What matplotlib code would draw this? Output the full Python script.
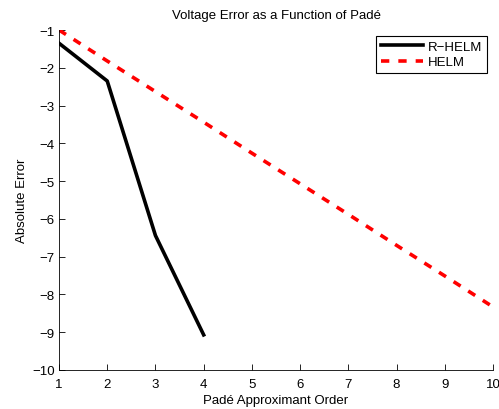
import matplotlib
matplotlib.use('Agg')
import matplotlib.pyplot as plt

# Dados
ordem_pade = [1, 2, 3, 4, 5, 6, 7, 8, 9, 10]
erro_rhelm = [-1.35, -2.35, -6.44, -9.07]
erro_helm = [-1.0, -1.82, -2.63, -3.44, -4.26, -5.07, -5.88, -6.70, -7.51, -8.33]

plt.rcParams['font.family'] = ['Liberation Sans', 'DejaVu Sans']
fs = 9.5

fig = plt.figure(figsize=(4.99, 4.10), dpi=100)
ax = fig.add_axes([59 / 499, 1 - 371 / 410, (493 - 59) / 499, (371 - 31) / 410])

ax.plot(ordem_pade[:len(erro_rhelm)], erro_rhelm, color='black', lw=2.6, label='R\u2212HELM')
ax.plot(ordem_pade, erro_helm, color='red', lw=2.6, dashes=(2.3, 2.5), label='HELM')

ax.set_xlim(1, 10)
ax.set_ylim(-10, -1)
ax.set_xticks(range(1, 11))
ax.set_yticks(range(-10, 0))
ax.set_yticklabels(['\u2212%d' % abs(v) for v in range(-10, 0)])
ax.tick_params(direction='in', length=4, width=0.6, labelsize=fs)
ax.tick_params(axis='x', pad=6)
ax.tick_params(axis='y', pad=3)
for lado in ['top', 'right']:
    ax.spines[lado].set_visible(False)
for lado in ['left', 'bottom']:
    ax.spines[lado].set_linewidth(0.6)

ax.set_title('Voltage Error as a Function of Padé', fontsize=fs, pad=9)
ax.set_xlabel('Padé Approximant Order', fontsize=fs, labelpad=3)
ax.set_ylabel('Absolute Error', fontsize=fs, labelpad=3)

leg = ax.legend(loc='upper right', bbox_to_anchor=(487 / 499, 1 - 37 / 410),
                bbox_transform=fig.transFigure, fancybox=False, framealpha=1,
                edgecolor='black', handlelength=3.2, borderpad=0.35,
                labelspacing=0.25, handletextpad=0.4, fontsize=fs, borderaxespad=0)
leg.get_frame().set_linewidth(0.8)

fig.savefig('out.png', dpi=100)
